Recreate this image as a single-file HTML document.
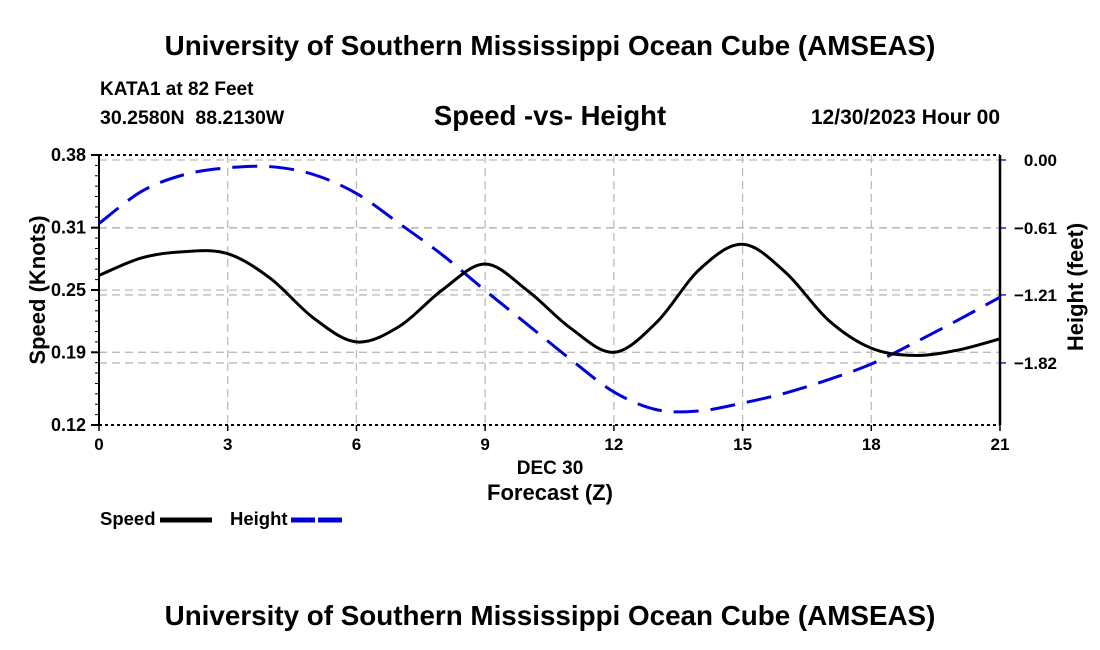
<!DOCTYPE html>
<html><head><meta charset="utf-8"><style>
body{margin:0;background:#fff;}
svg{display:block;font-family:"Liberation Sans",Arial,sans-serif;font-weight:bold;}
</style></head><body>
<svg width="1100" height="650" viewBox="0 0 1100 650">
<text x="550" y="55" text-anchor="middle" font-size="27.8">University of Southern Mississippi Ocean Cube (AMSEAS)</text>
<text x="100" y="95" font-size="19">KATA1 at 82 Feet</text>
<text x="100" y="124" font-size="19.5">30.2580N&#160;&#160;88.2130W</text>
<text x="550" y="125" text-anchor="middle" font-size="27.5">Speed -vs- Height</text>
<text x="1000" y="124" text-anchor="end" font-size="21">12/30/2023 Hour 00</text>
<g id="grid"></g>
<g id="axes"></g>
<g id="series"></g>
<text x="550" y="474" text-anchor="middle" font-size="19">DEC 30</text>
<text x="550" y="500" text-anchor="middle" font-size="22">Forecast (Z)</text>
<text transform="translate(45,290) rotate(-90)" text-anchor="middle" font-size="22">Speed (Knots)</text>
<text transform="translate(1083,287) rotate(-90)" text-anchor="middle" font-size="22">Height (feet)</text>
<g>
<text x="100" y="525" font-size="18.5">Speed</text>
<line x1="160" y1="520" x2="212" y2="520" stroke="#000" stroke-width="5"/>
</g>
<g>
<text x="230" y="525" font-size="18.5">Height</text>
<line x1="291" y1="520" x2="343" y2="520" stroke="#0000dd" stroke-width="5" stroke-dasharray="24,3"/>
</g>
<text x="550" y="625" text-anchor="middle" font-size="27.8">University of Southern Mississippi Ocean Cube (AMSEAS)</text>
</svg>
<script>
const hours=[0,1,2,3,4,5,6,7,8,9,10,11,12,13,14,15,16,17,18,19,20,21];
const speed=[0.264,0.281,0.287,0.285,0.261,0.223,0.200,0.215,0.250,0.275,0.249,0.213,0.190,0.219,0.270,0.294,0.267,0.221,0.194,0.187,0.192,0.203];
const height=[-0.57,-0.28,-0.13,-0.07,-0.06,-0.13,-0.30,-0.57,-0.85,-1.17,-1.48,-1.79,-2.08,-2.24,-2.25,-2.18,-2.09,-1.97,-1.83,-1.64,-1.44,-1.23];
const xTicks=[0,3,6,9,12,15,18,21];
const leftTicks=[0.12,0.19,0.25,0.31,0.38];
const rightTicks=[0.00,-0.61,-1.21,-1.82];
const NS="http://www.w3.org/2000/svg";
const X0=99,X1=1000,Y0=155,Y1=425;
function xs(h){return X0+(h/21)*(X1-X0);}
function ysL(v){return Y1-(v-0.12)/(0.38-0.12)*(Y1-Y0);}
function yR(v){return 160+(-v)*111.5;}
function mk(tag,attrs,parent){const e=document.createElementNS(NS,tag);for(const k in attrs)e.setAttribute(k,attrs[k]);parent.appendChild(e);return e;}
const grid=document.getElementById('grid'),axes=document.getElementById('axes'),series=document.getElementById('series');
xTicks.forEach(t=>{
 const l=mk('line',{x1:xs(t),x2:xs(t),y1:Y0,y2:Y1,stroke:'#bbb','stroke-width':1.3,'stroke-dasharray':'8,5'},grid);
 
 
 const tx=mk('text',{x:xs(t),y:450,'text-anchor':'middle','font-size':17},axes);tx.textContent=t;
 
 
 mk('line',{x1:xs(t),x2:xs(t),y1:Y1,y2:Y1+6,stroke:'#000','stroke-width':1.5},axes);
});
leftTicks.forEach(t=>{
 const y=ysL(t);
 if(t>0.12&&t<0.38){const l=mk('line',{x1:X0,x2:X1,y1:y,y2:y,stroke:'#bbb','stroke-width':1.3,'stroke-dasharray':'8,5'},grid);
 
 }
 const tx=mk('text',{x:86,y:y+6,'text-anchor':'end','font-size':18},axes);tx.textContent=t.toFixed(2);
 
 
 mk('line',{x1:X0-8,x2:X0,y1:y,y2:y,stroke:'#000','stroke-width':2},axes);
});
for(let v=0.12;v<=0.381;v+=0.01){const y=ysL(v);mk('line',{x1:X0-4,x2:X0,y1:y,y2:y,stroke:'#000','stroke-width':1},axes);}
rightTicks.forEach(t=>{
 const y=yR(t);
 const l=mk('line',{x1:X0,x2:X1,y1:y,y2:y,stroke:'#bbb','stroke-width':1.3,'stroke-dasharray':'8,5'},grid);
 
 
 const tx=mk('text',{x:1057,y:y+6,'text-anchor':'end','font-size':17},axes);tx.textContent=t.toFixed(2).replace('-','\u2212');
 
 
 mk('line',{x1:X1,x2:X1+6,y1:y,y2:y,stroke:'#22c','stroke-width':1.5},axes);
});
mk('line',{x1:X0,x2:X0,y1:Y0,y2:Y1,stroke:'#000','stroke-width':2},axes);
mk('line',{x1:X1,x2:X1,y1:Y0,y2:Y1,stroke:'#000','stroke-width':2.5},axes);
mk('line',{x1:X0,x2:X1,y1:Y0,y2:Y0,stroke:'#000','stroke-width':2,'stroke-dasharray':'3,3'},axes);
mk('line',{x1:X0,x2:X1,y1:Y1,y2:Y1,stroke:'#000','stroke-width':2,'stroke-dasharray':'3,3'},axes);
function smooth(pts){let d='M'+pts[0][0]+','+pts[0][1];for(let i=0;i<pts.length-1;i++){const p0=pts[i-1]||pts[i],p1=pts[i],p2=pts[i+1],p3=pts[i+2]||p2;
 d+=' C'+(p1[0]+(p2[0]-p0[0])/6)+','+(p1[1]+(p2[1]-p0[1])/6)+' '+(p2[0]-(p3[0]-p1[0])/6)+','+(p2[1]-(p3[1]-p1[1])/6)+' '+p2[0]+','+p2[1];}return d;}
const hp=mk('path',{d:smooth(hours.map((h,i)=>[xs(h),yR(height[i])])),fill:'none',stroke:'#0000dd','stroke-width':3,'stroke-dasharray':'25,12'},series);


const sp=mk('path',{d:smooth(hours.map((h,i)=>[xs(h),ysL(speed[i])])),fill:'none',stroke:'#000','stroke-width':3},series);


</script>
</body></html>
